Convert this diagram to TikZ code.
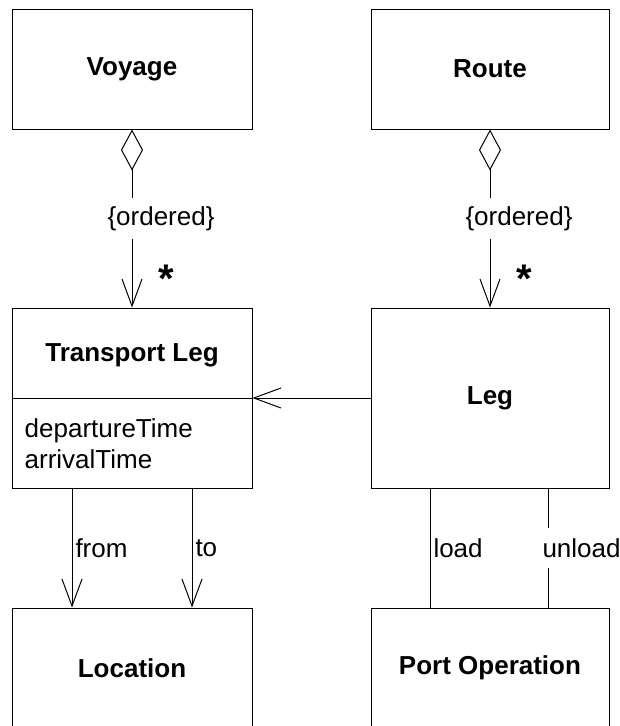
\documentclass[tikz,border=0pt]{standalone}
\usepackage{fontspec}
\setmainfont{Liberation Sans}
\usetikzlibrary{arrows.meta}
\usetikzlibrary{positioning}
\tikzset{
    cls/.style={
           rectangle,
           draw=black, line width=1pt,
           minimum width=240pt,
           minimum height=120pt,
           inner sep=0pt,
           font=\fontsize{26pt}{31pt}\selectfont\bfseries,
           },
    aggr/.style={
           {Diamond[open,length=41pt,width=22pt]}-{Straight Barb[length=27pt,width=20pt]},
           line width=1pt,
           },
    nav/.style={
           -{Straight Barb[length=27pt,width=20pt]},
           line width=1pt,
           },
    link/.style={
           -,
           line width=1pt,
           },
    lbl/.style={
           inner sep=3pt,
           },
    ordr/.style={
           midway,
           xshift=29pt,
           fill=white,
           inner xsep=2pt,
           inner ysep=8pt,
           },
    mult/.style={
           pos=0.84,
           right=26pt,
           inner sep=0pt,
           font=\fontsize{40pt}{40pt}\selectfont\bfseries,
           }
}

\begin{document}
\begin{tikzpicture}[x=1pt,y=-1pt,font=\fontsize{26pt}{31pt}\selectfont]
\useasboundingbox (0,0) rectangle (620,726);
% classes
\node (voyage) at (132,69) [cls] {Voyage};
\node (route) at (490,69) [cls, minimum width=238pt] {Route};
\node (tleg) at (132,398) [cls, minimum height=180pt] {};
\node (tlegname) at ([yshift=43pt]tleg.center) [font=\fontsize{26pt}{31pt}\selectfont\bfseries] {Transport Leg};
\node (attrs) at ([xshift=13pt,yshift=-20pt]tleg.west) [anchor=north west, align=left, inner sep=0pt] {departureTime\\arrivalTime};
\node (leg) at (490,398) [cls, minimum width=238pt, minimum height=180pt] {Leg};
\node (location) at (132,668) [cls] {Location};
\node (portop) at (490,668) [cls, minimum width=238pt] {Port Operation};
\draw[line width=1pt] (tleg.west) -- (tleg.east);
% associations
\path (voyage) edge[aggr] node[ordr] {\{ordered\}} node[mult] {*} (tleg);
\path (route) edge[aggr] node[ordr] {\{ordered\}} node[mult] {*} (leg);
\path (leg) edge[nav] (tleg);
\path ([xshift=-60pt]tleg.south) edge[nav] node[lbl, right] {from} ([xshift=-60pt]location.north);
\path ([xshift=60pt]tleg.south) edge[nav] node[lbl, right] {to} ([xshift=60pt]location.north);
\path ([xshift=-60pt]leg.south) edge[link] node[lbl, right] {load} ([xshift=-60pt]portop.north);
\path ([xshift=58pt]leg.south) edge[link] node[lbl, right=-9pt, fill=white, inner ysep=10pt] {unload} ([xshift=58pt]portop.north);
\end{tikzpicture}
\end{document}
